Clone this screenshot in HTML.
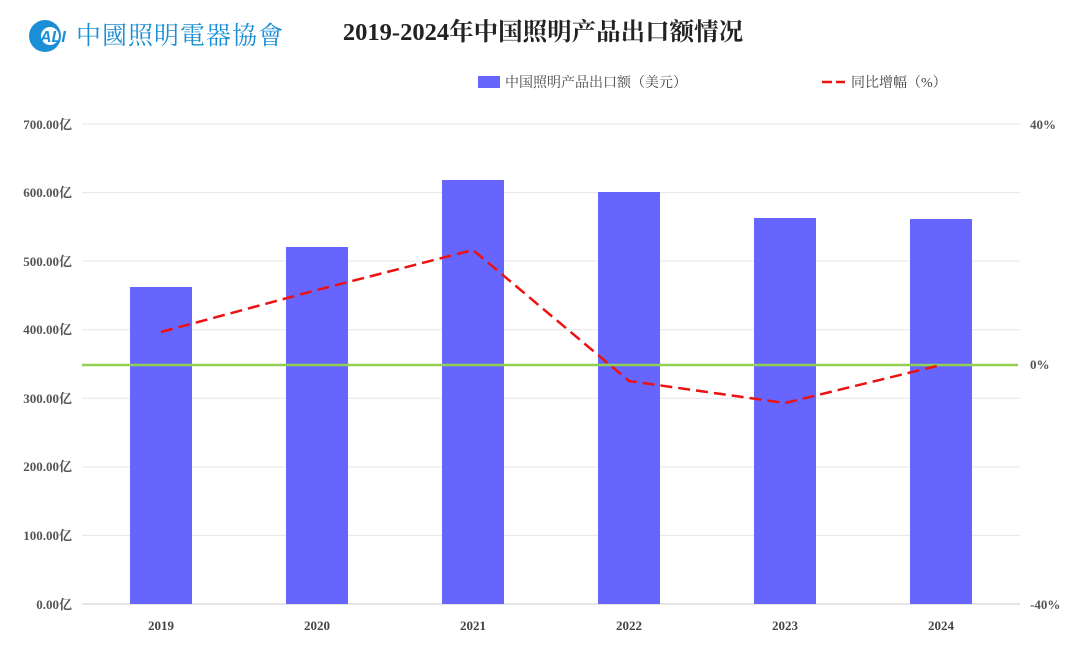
<!DOCTYPE html>
<html><head><meta charset="utf-8"><style>
body{margin:0;background:#fff;}
svg{display:block;font-family:"Liberation Serif","Noto Serif CJK SC",serif;}
</style></head><body>
<svg width="1080" height="646" viewBox="0 0 1080 646">
<circle cx="45" cy="36" r="16" fill="#1b8fd6"/>
<circle cx="50" cy="36" r="9" fill="#fff"/>
<text x="40" y="42" font-family="Liberation Sans,sans-serif" font-weight="bold" font-style="italic" font-size="16" fill="#1b8fd6">ALI</text>
<text x="76" y="44" font-family="'Noto Serif CJK SC',serif" font-size="25" fill="#1b8fd6" letter-spacing="1">中國照明電器協會</text>
<text x="543" y="40" text-anchor="middle" font-size="24.5" font-weight="bold" fill="#222">2019-2024年中国照明产品出口额情况</text>
<rect x="478" y="76" width="22" height="12" fill="#6666ff"/>
<text x="505" y="87" font-size="14" fill="#444">中国照明产品出口额（美元）</text>
<line x1="822" y1="82" x2="845" y2="82" stroke="#ee1111" stroke-width="2.5" stroke-dasharray="10,4"/>
<text x="851" y="87" font-size="14" fill="#444">同比增幅（%）</text>
<g stroke="#e6e6e6" stroke-width="1">
<line x1="82" y1="124" x2="1020" y2="124"/><line x1="82" y1="192.6" x2="1020" y2="192.6"/>
<line x1="82" y1="261.1" x2="1020" y2="261.1"/><line x1="82" y1="329.7" x2="1020" y2="329.7"/>
<line x1="82" y1="398.3" x2="1020" y2="398.3"/><line x1="82" y1="466.9" x2="1020" y2="466.9"/>
<line x1="82" y1="535.4" x2="1020" y2="535.4"/><line x1="82" y1="604" x2="1020" y2="604" stroke="#ccc"/>
</g>
<g font-size="13" font-weight="bold" fill="#555" text-anchor="end">
<text x="72" y="129">700.00亿</text><text x="72" y="197">600.00亿</text>
<text x="72" y="266">500.00亿</text><text x="72" y="334">400.00亿</text>
<text x="72" y="403">300.00亿</text><text x="72" y="471">200.00亿</text>
<text x="72" y="540">100.00亿</text><text x="72" y="609">0.00亿</text>
</g>
<g font-size="13" font-weight="bold" fill="#555">
<text x="1030" y="129">40%</text><text x="1030" y="369">0%</text><text x="1030" y="609">-40%</text>
</g>
<g fill="#6666ff">
<rect x="130" y="287" width="62" height="317"/><rect x="286" y="247" width="62" height="357"/>
<rect x="442" y="180" width="62" height="424"/><rect x="598" y="192" width="62" height="412"/>
<rect x="754" y="218" width="62" height="386"/><rect x="910" y="219" width="62" height="385"/>
</g>
<line x1="82" y1="365" x2="1018" y2="365" stroke="#92d050" stroke-width="2.5"/>
<polyline points="161,332 317,290 473,250 629,381 785,403 941,365" fill="none" stroke="#ee1111" stroke-width="2.5" stroke-dasharray="12,6"/>
<g font-size="13" font-weight="bold" fill="#444" text-anchor="middle">
<text x="161" y="630">2019</text><text x="317" y="630">2020</text><text x="473" y="630">2021</text>
<text x="629" y="630">2022</text><text x="785" y="630">2023</text><text x="941" y="630">2024</text>
</g>
</svg>
</body></html>
